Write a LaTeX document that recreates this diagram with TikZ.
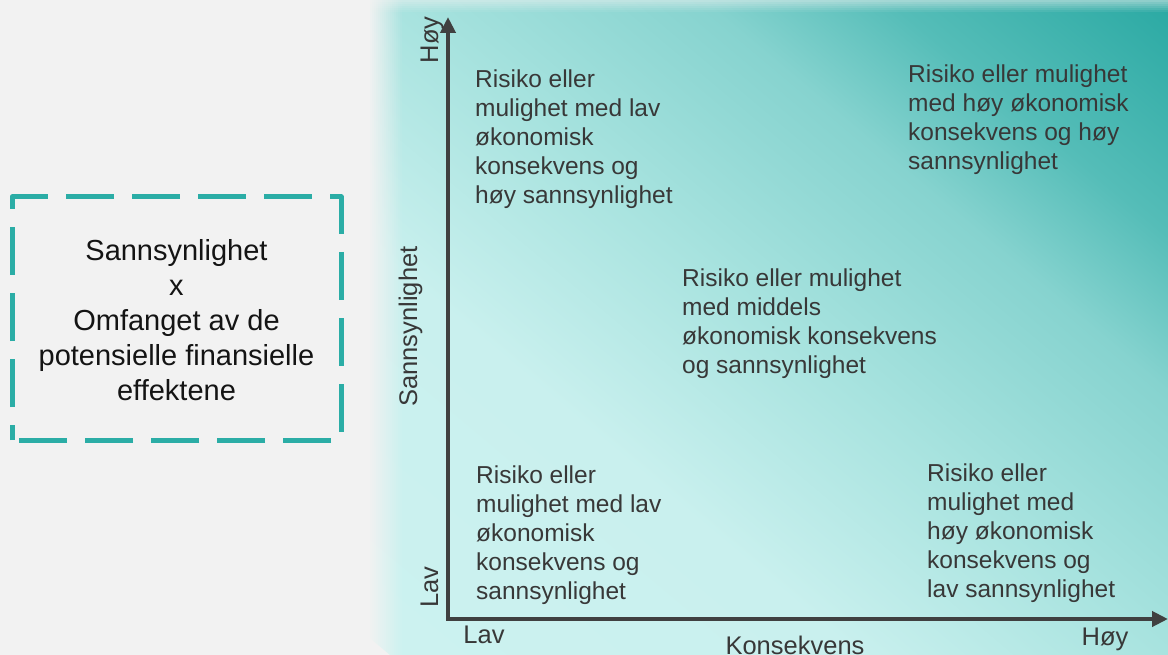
\documentclass[tikz,border=0pt]{standalone}
\usepackage{fontspec}
\setmainfont{Liberation Sans}
\usetikzlibrary{arrows.meta,fadings}
\definecolor{bggray}{HTML}{F2F2F2}
\definecolor{dashteal}{HTML}{2BADA6}
\definecolor{txt}{HTML}{383838}
\definecolor{boxtxt}{HTML}{141414}
\definecolor{axisc}{HTML}{404040}
\definecolor{gA}{HTML}{CCF2F0}
\definecolor{gB}{HTML}{C9F0EE}
\definecolor{gC}{HTML}{A8E3DF}
\definecolor{gD}{HTML}{86D3CF}
\definecolor{gE}{HTML}{55BDB8}
\definecolor{gF}{HTML}{2AA9A3}
\pgfdeclarehorizontalshading{panelgrad}{100bp}{color(0bp)=(gA); color(25bp)=(gA); color(40bp)=(gB); color(50bp)=(gC); color(60bp)=(gD); color(66bp)=(gE); color(75bp)=(gF); color(100bp)=(gF)}
\tikzset{
  qtext/.style={anchor=north west, inner sep=0pt, align=left, text=txt, font=\fontsize{24.5}{28.8}\selectfont},
  axlabel/.style={anchor=base, inner sep=0pt, text=txt, font=\fontsize{25.5}{30}\selectfont},
  axisline/.style={draw=axisc, line width=4.5pt, miter limit=10, {Triangle[length=16pt,width=15pt]}-{Triangle[length=16pt,width=15pt]}},
  dashbox/.style={draw=dashteal, line width=5pt, dash pattern=on 48pt off 18pt, dash phase=33pt, line join=round}
}
\begin{document}
\begin{tikzpicture}[x=1pt,y=-1pt]
\useasboundingbox (0,0) rectangle (1168,655);
\fill[bggray] (0,0) rectangle (1168,655);
% gradient panel
\begin{scope}
  \clip (370,0) rectangle (1168,655);
  \begin{scope}[transform canvas={shift={(390,655)},rotate=50}]
    \shade[shading=panelgrad] (0,-900) rectangle (1002,900);
  \end{scope}
\end{scope}
% soft left edge
\foreach \i in {0,...,15}{
  \pgfmathsetmacro{\op}{(16-\i)/17}
  \fill[bggray, opacity=\op] ({370+2*\i},0) rectangle ({372.2+2*\i},655);
}
% soft top edge
\foreach \i in {0,...,5}{
  \pgfmathsetmacro{\op}{0.5*(6-\i)/6}
  \fill[bggray, opacity=\op] (370,{2*\i}) rectangle (1168,{2.2+2*\i});
}
% dashed formula box
\node[inner sep=0pt, align=center, text=boxtxt, font=\fontsize{29}{35}\selectfont] (formula) at (176.5,320.5)
  {Sannsynlighet\\x\\Omfanget av de\\potensielle finansielle\\effektene};
\draw[dashbox] (12,440) -- (12,197) -- (341,197) -- (341,440) -- cycle;
% axes
\coordinate (ytip) at (448,17);
\coordinate (origin) at (448,619);
\coordinate (xtip) at (1168,619);
\draw[axisline] (ytip) -- (origin) -- (xtip);
% axis labels
\node[axlabel, rotate=90] (yhigh) at (438,40) {Høy};
\node[axlabel, rotate=90] (ylow) at (438,587) {Lav};
\node[axlabel, rotate=90] (ytitle) at (417,326.5) {Sannsynlighet};
\node[axlabel] (xlow) at (484,643) {Lav};
\node[axlabel] (xhigh) at (1105,645) {Høy};
\node[axlabel] (xtitle) at (795,654.5) {Konsekvens};
% quadrant texts
\node[qtext] (tl) at (475,70) {Risiko eller\\mulighet med lav\\økonomisk\\konsekvens og\\høy sannsynlighet};
\node[qtext] (tr) at (908,65) {Risiko eller mulighet\\med høy økonomisk\\konsekvens og høy\\sannsynlighet};
\node[qtext] (mid) at (682,269) {Risiko eller mulighet\\med middels\\økonomisk konsekvens\\og sannsynlighet};
\node[qtext] (bl) at (476,466) {Risiko eller\\mulighet med lav\\økonomisk\\konsekvens og\\sannsynlighet};
\node[qtext] (br) at (927,464) {Risiko eller\\mulighet med\\høy økonomisk\\konsekvens og\\lav sannsynlighet};
\end{tikzpicture}
\end{document}
